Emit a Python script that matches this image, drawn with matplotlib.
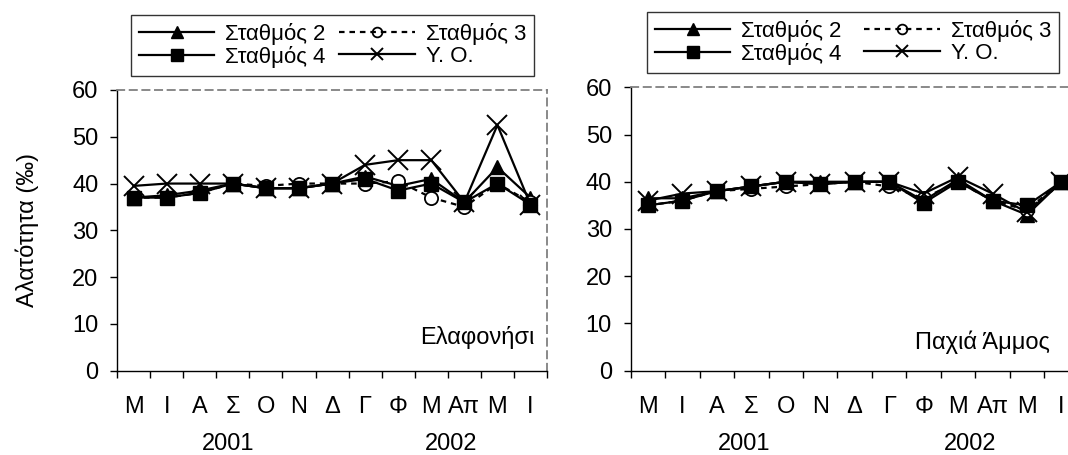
import matplotlib.pyplot as plt
from matplotlib.lines import Line2D

plt.rcParams['font.family'] = ['Liberation Sans', 'DejaVu Sans']

# categories
months = ['Μ', 'Ι', 'Α', 'Σ', 'Ο', 'Ν', 'Δ', 'Γ', 'Φ', 'Μ', 'Απ', 'Μ', 'Ι']
years = ['2001', '2002']
yticks = [0, 10, 20, 30, 40, 50, 60]

# Ελαφονήσι
elaf_st2 = [37, 37.5, 38.5, 40, 39, 39, 40, 41.5, 39.5, 41, 36, 43.5, 37]
elaf_st3 = [37, 37, 38, 40, 39.5, 40, 40, 40, 40.5, 37, 35, 40, 36]
elaf_st4 = [37, 37, 38, 40, 39, 39, 40, 41, 38.5, 40, 36, 40, 35.5]
elaf_yo = [39.5, 40, 40, 40, 39, 39, 40, 44, 45, 45, 36, 52.5, 35.5]

# Παχιά Άμμος
pach_st2 = [36.5, 36.5, 38, 39, 40, 40, 40, 40, 36, 40.5, 36, 33, 40]
pach_st3 = [35, 36, 38, 38.5, 39, 39.5, 40, 39, 36.5, 40, 36, 34, 40]
pach_st4 = [35, 36, 38, 39, 40, 39.5, 40, 40, 35.5, 40, 36, 35, 40]
pach_yo = [36, 37.5, 38, 39, 40, 39.5, 40, 40, 37.5, 41, 37.5, 33.5, 40]

labels = ['Σταθμός 2', 'Σταθμός 3', 'Σταθμός 4', 'Υ. Ο.']

FS = 17
GRAY = '#808080'
DASH = (0, (4, 3))

styles = [
    dict(marker='^', ms=10.5, mfc='black', mec='black', ls='-'),
    dict(marker='o', ms=9.5, mfc='white', mec='black', mew=1.3, ls=(0, (2.5, 2.2))),
    dict(marker='s', ms=10, mfc='black', mec='black', ls='-'),
    dict(marker='x', ms=14, mec='black', mew=1.4, ls='-'),
]
leg_sizes = [8, 7, 8, 9]


def draw_panel(ax, series, site, site_xy, year_x, year_y):
    x = range(len(months))
    for vals, st in zip(series, styles):
        ax.plot(x, vals, color='black', lw=1.6, clip_on=False, **st)

    ax.set_xlim(-0.5, len(months) - 0.5)
    ax.set_ylim(0, 60)
    ax.set_yticks(yticks)
    ax.set_xticks(list(x))
    ax.set_xticklabels(months)
    ax.set_xticks([i - 0.5 for i in range(len(months) + 1)], minor=True)
    ax.tick_params(axis='x', which='major', length=0, pad=18, labelsize=FS)
    ax.tick_params(axis='x', which='minor', length=5, width=1, direction='out')
    ax.tick_params(axis='y', length=5, width=1, direction='out', pad=8.5, labelsize=FS)

    for s in ['left', 'bottom']:
        ax.spines[s].set_color('black')
        ax.spines[s].set_linewidth(1.0)
    for s in ['top', 'right']:
        ax.spines[s].set_color(GRAY)
        ax.spines[s].set_linewidth(1.3)
        ax.spines[s].set_linestyle(DASH)

    # year labels under the month labels
    tr = ax.get_xaxis_transform()
    for yx, yl in zip(year_x, years):
        ax.text(yx, year_y, yl, transform=tr, ha='center', va='baseline', fontsize=FS)

    ax.text(site_xy[0], site_xy[1], site, transform=ax.transAxes,
            ha='right', va='center', fontsize=FS)


def add_legend(fig, anchor, colsp):
    handles = []
    for st, ms in zip(styles, leg_sizes):
        st2 = dict(st)
        st2['ms'] = ms
        if st2['marker'] == 'o':
            st2['mfc'] = 'none'
        handles.append(Line2D([], [], color='black', lw=1.6, **st2))
    order = [0, 2, 1, 3]
    leg = fig.legend([handles[i] for i in order], [labels[i] for i in order],
                     ncol=2, loc='upper left', bbox_to_anchor=anchor,
                     fontsize=FS - 1, frameon=True, fancybox=False,
                     edgecolor='black', handlelength=3.4, handletextpad=0.5,
                     columnspacing=colsp, labelspacing=0.05, borderpad=0.35,
                     borderaxespad=0)
    leg.get_frame().set_linewidth(1.0)
    return leg


fig = plt.figure(figsize=(10.68, 4.55), dpi=100)

ax1 = fig.add_axes([0.1096, 0.1853, 0.4026, 0.6169])
ax2 = fig.add_axes([0.5905, 0.1853, 0.4195, 0.6229])

draw_panel(ax1, [elaf_st2, elaf_st3, elaf_st4, elaf_yo], 'Ελαφονήσι',
           (0.972, 0.12), [2.85, 9.6], -0.2825)
draw_panel(ax2, [pach_st2, pach_st3, pach_st4, pach_yo], 'Παχιά Άμμος',
           (0.936, 0.102), [2.8, 9.35], -0.28)

ax1.set_ylabel('Αλατότητα (‰)', fontsize=FS, labelpad=24)

add_legend(fig, (0.1227, 0.967), 0.6)
add_legend(fig, (0.6058, 0.9736), 1.0)

fig.savefig('out.png', dpi=100)
